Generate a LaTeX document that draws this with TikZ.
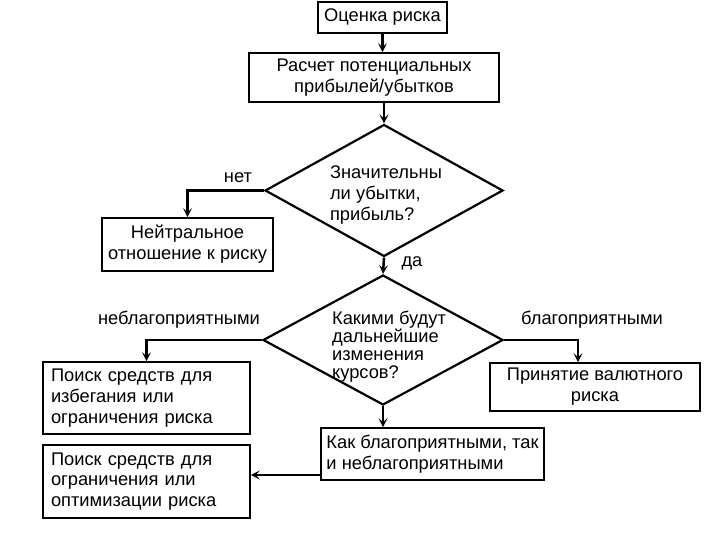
\documentclass[tikz,border=0pt]{standalone}
\usepackage{fontspec}
\setmainfont{Liberation Sans}
\usetikzlibrary{shapes.geometric,arrows.meta}
\begin{document}
\begin{tikzpicture}[x=1pt,y=-1pt,
  every node/.style={font=\fontsize{18.3}{20.8}\selectfont},
  box/.style={draw, line width=1.7pt, inner sep=0pt, align=center},
  dia/.style={draw, diamond, line width=2.2pt, inner sep=0pt},
  lbl/.style={inner sep=0pt},
  arr/.style={line width=2.5pt, -{Stealth[length=9pt,width=9pt,inset=4pt]}}]
\useasboundingbox (0,0) rectangle (720,540);

\node[box, minimum width=129pt, minimum height=31pt] (b1) at (382.5,17.5) {Оценка риска};
\node[box, minimum width=250pt, minimum height=49pt] (b2) at (374,77.5) {Расчет потенциальных\\прибылей/убытков};
\node[dia, minimum width=238pt, minimum height=132pt] (d1) at (384,190.5) {};
\node[lbl, align=left] (d1t) at (386,195) {Значительны\\ли убытки,\\прибыль?};
\node[lbl] (no) at (238,178) {нет};
\node[lbl] (yes) at (412,263) {да};
\node[box, minimum width=171pt, minimum height=53pt] (b3) at (187.5,244.5) {Нейтральное\\отношение к риску};

\node[dia, minimum width=240pt, minimum height=130pt] (d2) at (383,340) {};
\node[lbl, align=left, font=\fontsize{18.3}{18}\selectfont] (d2t) at (389,346.5) {Какими будут\\дальнейшие\\изменения\\курсов?};
\node[lbl] (neg) at (179,320) {неблагоприятными};
\node[lbl] (pos) at (592,320) {благоприятными};

\node[lbl, draw, line width=1.7pt, inner xsep=8pt, text width=191pt, minimum height=72pt, align=left] (b4) at (146.5,398) {Поиск средств для\\избегания или\\ограничения риска};
\node[box, minimum width=210pt, minimum height=48pt] (b5) at (595,387) {Принятие валютного\\риска};
\node[lbl, draw, line width=1.7pt, inner xsep=5pt, minimum width=223pt, minimum height=52pt, align=left] (b6) at (432.5,454) {Как благоприятными, так\\и неблагоприятными};
\node[lbl, draw, line width=1.7pt, inner xsep=8pt, text width=191pt, minimum height=73pt, align=left] (b7) at (146.5,481.5) {Поиск средств для\\ограничения или\\оптимизации риска};

\draw[arr] (b1.south) -- (b1.south |- b2.north);
\draw[arr] (d1.north |- b2.south) -- (d1.north);
\draw[arr] (d1.west) -| (b3.north);
\draw[arr] (d1.south) -- (d2.north);
\draw[arr] (d2.west) -| (b4.north);
\draw[arr] (d2.east) -| ([xshift=-17pt]b5.north);
\draw[arr] (d2.south) -- (d2.south |- b6.north);
\draw[arr] ([yshift=-21pt]b6.west) -- ([yshift=-21pt]b6.west -| b7.east);
\end{tikzpicture}
\end{document}
